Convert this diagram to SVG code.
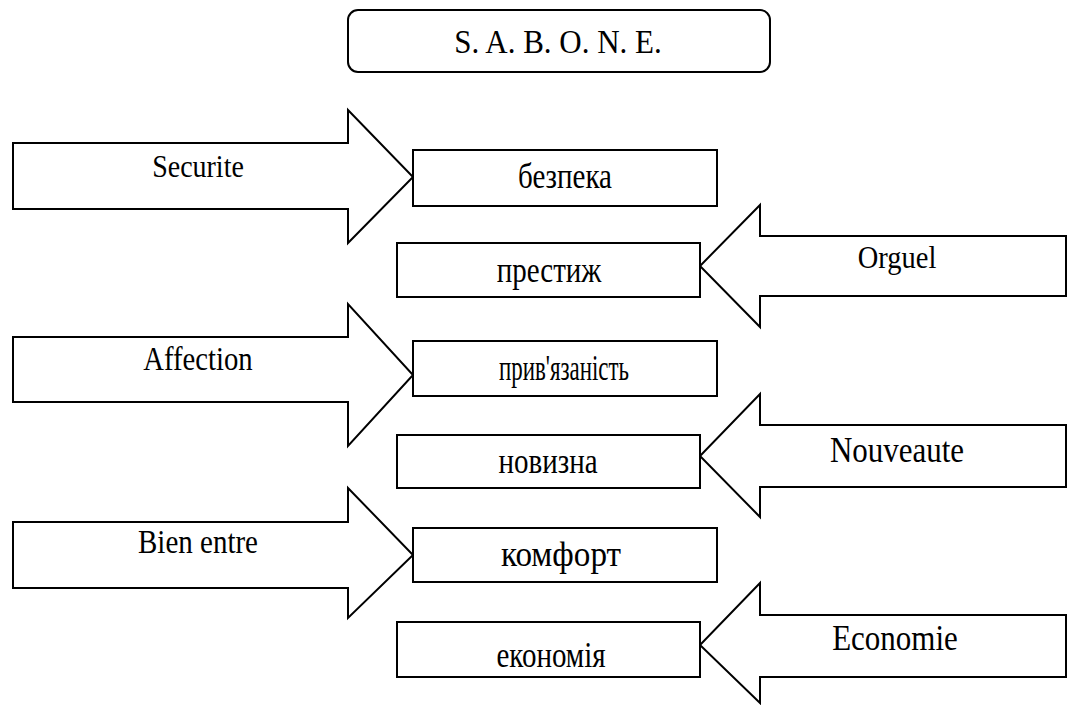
<svg xmlns="http://www.w3.org/2000/svg" width="1067" height="705" viewBox="0 0 1067 705">
<style>
.shape{fill:#fff;stroke:#000;stroke-width:2;stroke-linejoin:miter}
.t{font-family:"Liberation Serif","Times New Roman",serif;fill:#000;text-anchor:middle}
</style>
<rect width="1067" height="705" fill="#fff"/>
<g id="title">
<rect class="shape" x="348" y="10" width="422" height="62" rx="10" ry="10"/>
<text class="t" font-size="31" transform="translate(558,53) scale(1,1.12)">S. A. B. O. N. E.</text>
</g>
<g id="connectors">
<g id="arrow-securite">
<polygon class="shape" points="13,143 348,143 348,110 413,177 348,243 348,209 13,209"/>
<text class="t" font-size="28" transform="translate(198,177) scale(1,1.15)">Securite</text>
</g>
<g id="arrow-orguel">
<polygon class="shape" points="1066,236 760,236 760,205 700,266 760,327 760,296 1066,296"/>
<text class="t" font-size="28.5" transform="translate(897,268) scale(1,1.12)">Orguel</text>
</g>
<g id="arrow-affection">
<polygon class="shape" points="13,337 348,337 348,304 413,375 348,446 348,402 13,402"/>
<text class="t" font-size="28.7" transform="translate(198,370) scale(1,1.15)">Affection</text>
</g>
<g id="arrow-nouveaute">
<polygon class="shape" points="1066,425 760,425 760,394 700,456 760,517 760,487 1066,487"/>
<text class="t" font-size="31" transform="translate(897,462) scale(1,1.15)">Nouveaute</text>
</g>
<g id="arrow-bien-entre">
<polygon class="shape" points="13,522 348,522 348,488 413,555 348,618 348,588 13,588"/>
<text class="t" font-size="29" transform="translate(198,553) scale(1,1.15)">Bien entre</text>
</g>
<g id="arrow-economie">
<polygon class="shape" points="1066,615 760,615 760,583 700,645 760,703 760,677 1066,677"/>
<text class="t" font-size="31" transform="translate(895,650) scale(1,1.15)">Economie</text>
</g>
</g>
<g id="node-bezpeka">
<rect class="shape" x="413" y="150" width="304" height="56"/>
<text class="t" font-size="29" transform="translate(565,188) scale(1,1.2)">безпека</text>
</g>
<g id="node-prestyzh">
<rect class="shape" x="397" y="243" width="303" height="54"/>
<text class="t" font-size="29" transform="translate(549,282) scale(1,1.2)">престиж</text>
</g>
<g id="node-pryviazanist">
<rect class="shape" x="413" y="341" width="304" height="55"/>
<text class="t" font-size="29" textLength="130" lengthAdjust="spacingAndGlyphs" transform="translate(564,380) scale(1,1.2)">прив'язаність</text>
</g>
<g id="node-novyzna">
<rect class="shape" x="397" y="435" width="303" height="53"/>
<text class="t" font-size="29" transform="translate(548,473) scale(1,1.2)">новизна</text>
</g>
<g id="node-komfort">
<rect class="shape" x="413" y="528" width="304" height="54"/>
<text class="t" font-size="29" textLength="120" lengthAdjust="spacingAndGlyphs" transform="translate(561,566) scale(1,1.2)">комфорт</text>
</g>
<g id="node-ekonomiia">
<rect class="shape" x="397" y="622" width="303" height="55"/>
<text class="t" font-size="29" transform="translate(551,667) scale(1,1.2)">економія</text>
</g>
</svg>
